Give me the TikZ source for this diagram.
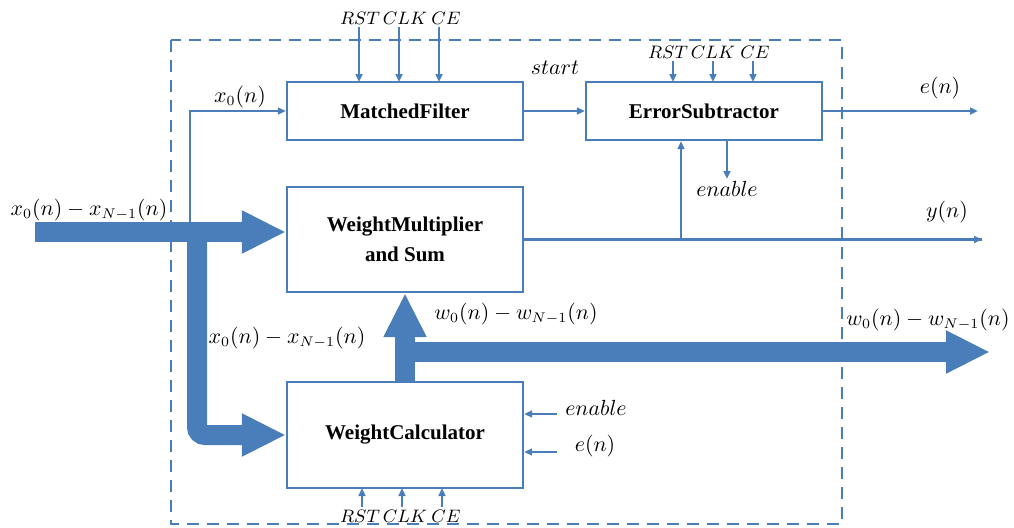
\documentclass[tikz,border=0pt]{standalone}
\usepackage{fontspec}
\setmainfont{Liberation Serif}
\usetikzlibrary{arrows.meta}
\definecolor{wordblue}{RGB}{74,126,187}
\tikzset{
  blk/.style={draw=wordblue, line width=1.1pt, inner sep=0pt, minimum width=118pt,
    font=\fontsize{10.5}{15}\selectfont\bfseries, align=center},
  sig/.style={draw=wordblue, line width=1.1pt, -{Triangle[length=4pt,width=3.4pt]}},
  bus/.style={draw=wordblue, line width=10pt, -{Triangle[length=22pt,width=20pt]}},
  txt/.style={inner sep=1pt, font=\fontsize{10.5}{12}\selectfont},
  ctl/.style={inner sep=1pt, font=\fontsize{9}{10}\selectfont}
}
\begin{document}
\begin{tikzpicture}[x=0.5pt, y=-0.5pt]
      \useasboundingbox (0,0) rectangle (1014,527);
      \draw[wordblue, line width=1.3pt, dash pattern=on 6pt off 4pt] (171,40) rectangle (842,524);
      \draw
        (405,111) node[blk, minimum height=29pt] (filter){MatchedFilter}
        (704,111) node[blk, minimum height=29pt] (error){ErrorSubtractor}
        (405,239.5) node[blk, minimum height=52.5pt] (mult){WeightMultiplier\\and Sum}
        (405,435) node[blk, minimum height=53pt] (calc){WeightCalculator};
      \draw
        (360,18) node[ctl] (rst1){$RST$}
        (405,18) node[ctl] (clk1){$CLK$}
        (446,18) node[ctl] (ce1){$CE$}
        (668,52) node[ctl] (rst2){$RST$}
        (713,52) node[ctl] (clk2){$CLK$}
        (755,52) node[ctl] (ce2){$CE$}
        (360,516) node[ctl] (rst3){$RST$}
        (405,516) node[ctl] (clk3){$CLK$}
        (446,516) node[ctl] (ce3){$CE$}
        (89,210) node[txt] (lin){$x_0(n)-x_{N-1}(n)$}
        (240,97) node[txt] (lx0){$x_0(n)$}
        (555,68) node[txt] (lstart){$start$}
        (940,88) node[txt] (len){$e(n)$}
        (947,212) node[txt] (lyn){$y(n)$}
        (727,189) node[txt] (enab1){$enable$}
        (287,338) node[txt] (lxc){$x_0(n)-x_{N-1}(n)$}
        (516,314) node[txt] (lw1){$w_0(n)-w_{N-1}(n)$}
        (928,320) node[txt] (lw2){$w_0(n)-w_{N-1}(n)$}
        (596,408) node[txt] (enab2){$enable$}
        (595,446) node[txt] (len2){$e(n)$};
      \coordinate (inp) at (35,232);
      \coordinate (br) at (197,222);
      \coordinate (xs) at (190,222);
      \coordinate (wb) at (397,352);
      \coordinate (wout) at (990,352);
      \coordinate (eout) at (978,111);
      \coordinate (yout) at (982,239.5);
      \coordinate (tap) at (681,239.5);
      \coordinate (in1) at (557,414);
      \coordinate (in2) at (557,452);
      \begin{scope}[sig]
        \draw (rst1.south -| 359,0) to (359,82);
        \draw (clk1.south -| 399,0) to (399,82);
        \draw (ce1.south -| 439,0) to (439,82);
        \draw (rst2.south -| 673,0) to (673,82);
        \draw (clk2.south -| 713,0) to (713,82);
        \draw (ce2.south -| 753,0) to (753,82);
        \draw (rst3.north -| 362,0) to (362,488);
        \draw (clk3.north -| 402,0) to (402,488);
        \draw (ce3.north -| 442,0) to (442,488);
        \draw (xs) |- (filter.west);
        \draw (filter.east) to (error.west);
        \draw (error.east) to (eout);
        \draw[-] (mult.east) to (yout);
        \draw (tap) to (yout);
        \draw (tap) to (tap |- error.south);
        \draw (enab1.north |- error.south) to (enab1);
        \draw (in1) to (in1 -| calc.east);
        \draw (in2) to (in2 -| calc.east);
      \end{scope}
      \begin{scope}[bus]
        \draw (inp) to (inp -| mult.west);
        \draw[rounded corners=4pt] (br) |- (calc.west);
        \draw (calc.north) to (mult.south);
        \draw (wb) to (wout);
      \end{scope}
    \end{tikzpicture}
\end{document}
